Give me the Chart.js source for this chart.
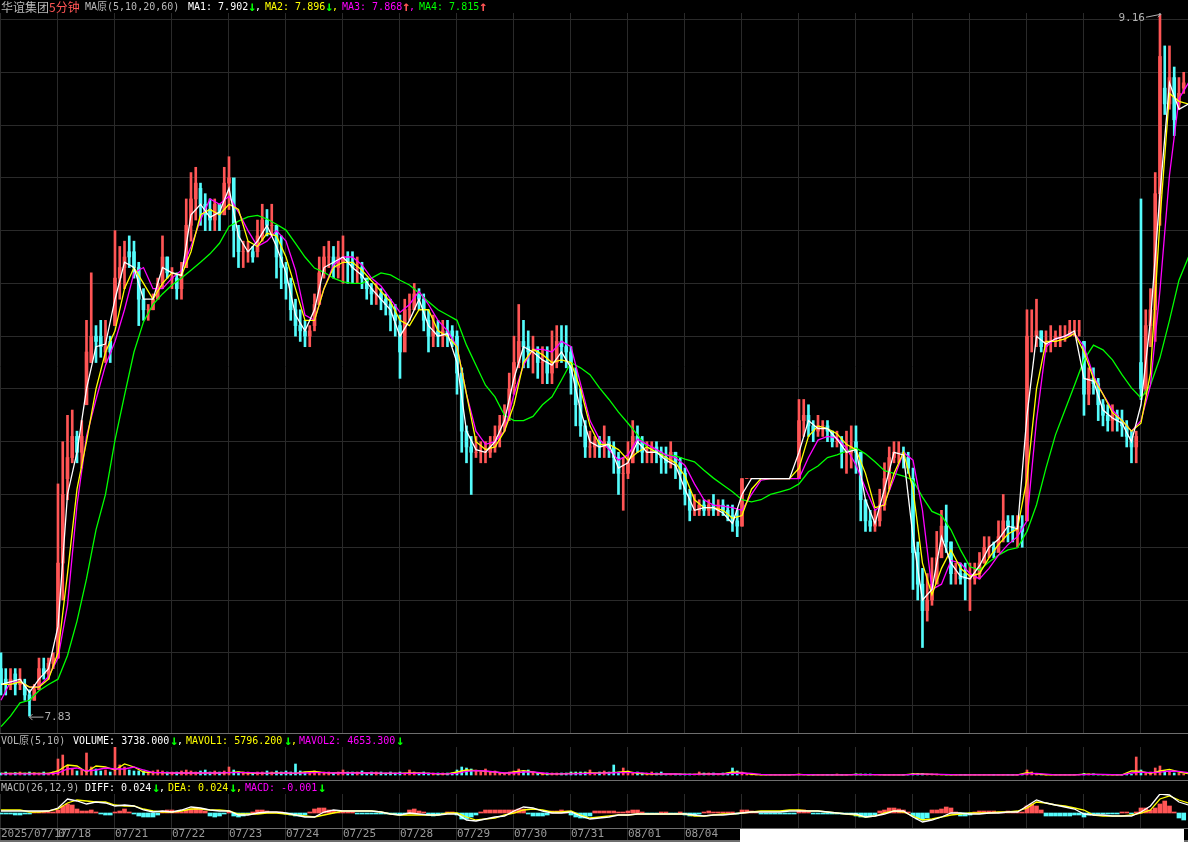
<!DOCTYPE html>
<html lang="zh-CN">
<head>
<meta charset="UTF-8">
<title>华谊集团 5分钟</title>
<script src="https://cdn.jsdelivr.net/npm/chart.js"></script>
<style>
    html, body { margin: 0; background: #000; }
    #wrap { position: relative; width: 1188px; height: 842px; background: #000; overflow: hidden; font: 10px "DejaVu Sans Mono", monospace; }
    canvas { position: absolute; left: 0; }
    .strip { position: absolute; left: 0; width: 1188px; height: 13px; background: #000; }
    .strip span { position: absolute; top: 0; line-height: 13px; white-space: pre; }
    .strip span.arrow { font-size: 14px; font-weight: bold; }
    .cjk { font: 12px "Noto Sans CJK SC", sans-serif; }
    .sep { position: absolute; left: 0; width: 1188px; height: 1px; background: #6e6e6e; }
    .w { color: #fff; } .y { color: #ff0; } .m { color: #f0f; } .g { color: #0f0; } .r { color: #f55; } .s { color: #b8b8b8; }
</style>
</head>
<body>
<div id="wrap">
    <canvas id="mainChart" width="1188" height="733" style="top:0"></canvas>
    <canvas id="volChart" width="1188" height="46" style="top:734px"></canvas>
    <canvas id="macdChart" width="1188" height="61" style="top:781px"></canvas>

    <div class="strip" style="top:0">
        <span class="cjk s" style="left:1px">华谊集团</span><span class="cjk r" style="left:49px">5分钟</span>
        <span class="s" style="left:85px">MA原(5,10,20,60)</span>
        <span class="w" style="left:188px">MA1: 7.902</span><span class="g arrow" style="left:248px">↓</span><span class="w" style="left:255px">,</span>
        <span class="y" style="left:265px">MA2: 7.896</span><span class="g arrow" style="left:325px">↓</span><span class="y" style="left:332px">,</span>
        <span class="m" style="left:342px">MA3: 7.868</span><span class="r arrow" style="left:402px">↑</span><span class="m" style="left:409px">,</span>
        <span class="g" style="left:419px">MA4: 7.815</span><span class="r arrow" style="left:479px">↑</span>
    </div>
    <div class="sep" style="top:733px"></div>
    <div class="strip" style="top:734px">
        <span class="s" style="left:1px">VOL原(5,10)</span>
        <span class="w" style="left:73px">VOLUME: 3738.000</span><span class="g arrow" style="left:170px">↓</span><span class="w" style="left:177px">,</span>
        <span class="y" style="left:186px">MAVOL1: 5796.200</span><span class="g arrow" style="left:284px">↓</span><span class="y" style="left:291px">,</span>
        <span class="m" style="left:299px">MAVOL2: 4653.300</span><span class="g arrow" style="left:396px">↓</span>
    </div>
    <div class="sep" style="top:780px"></div>
    <div class="strip" style="top:781px">
        <span class="s" style="left:1px">MACD(26,12,9)</span>
        <span class="w" style="left:85px">DIFF: 0.024</span><span class="g arrow" style="left:152px">↓</span><span class="w" style="left:159px">,</span>
        <span class="y" style="left:168px">DEA: 0.024</span><span class="g arrow" style="left:229px">↓</span><span class="y" style="left:236px">,</span>
        <span class="m" style="left:245px">MACD: -0.001</span><span class="g arrow" style="left:318px">↓</span>
    </div>
    <div class="sep" style="top:828px"></div>
    <div style="position:absolute;left:0;top:840px;width:1188px;height:2px;background:#6e6e6e"></div>
    <div style="position:absolute;left:740px;top:829px;width:444px;height:13px;background:#fff"></div>
</div>

<script>
    // 每天 12 根取样(约 20 分钟一根),价格从图上读出
    const dayLabels = ['2025/07/17', '07/18', '07/21', '07/22', '07/23', '07/24', '07/25', '07/28', '07/29', '07/30', '07/31', '08/01', '08/04'];
    const dayStarts = [0, 12, 24, 36, 48, 60, 72, 84, 96, 108, 120, 132, 144, 156, 168, 180, 192, 204, 216, 228, 240];
    const priceGrid = [9.15, 9.05, 8.95, 8.85, 8.75, 8.65, 8.55, 8.45, 8.35, 8.25, 8.15, 8.05, 7.95, 7.85];

    const highs = [
        7.95,7.92,7.92,7.92,7.92,7.90,7.88,7.89,7.94,7.94,7.94,7.95,
        8.27,8.35,8.40,8.41,8.37,8.39,8.58,8.67,8.57,8.58,8.58,8.55,
        8.75,8.72,8.73,8.74,8.73,8.69,8.64,8.61,8.63,8.66,8.74,8.70,
        8.68,8.67,8.69,8.81,8.86,8.87,8.84,8.82,8.81,8.81,8.80,8.87,
        8.89,8.83,8.76,8.73,8.73,8.72,8.77,8.80,8.79,8.80,8.75,8.74,
        8.69,8.66,8.62,8.60,8.58,8.57,8.63,8.70,8.72,8.73,8.72,8.73,
        8.74,8.71,8.71,8.70,8.69,8.66,8.65,8.65,8.64,8.63,8.62,8.61,
        8.59,8.62,8.63,8.65,8.64,8.63,8.60,8.59,8.58,8.58,8.58,8.57,
        8.56,8.49,8.38,8.36,8.36,8.35,8.35,8.36,8.38,8.40,8.42,8.48,
        8.55,8.61,8.58,8.56,8.55,8.53,8.53,8.53,8.56,8.57,8.57,8.57,
        8.53,8.49,8.45,8.39,8.37,8.36,8.36,8.38,8.36,8.35,8.33,8.32,
        8.35,8.39,8.38,8.36,8.35,8.35,8.35,8.34,8.34,8.35,8.33,8.32,
        8.30,8.26,8.25,8.24,8.24,8.24,8.25,8.24,8.24,8.23,8.23,8.22,
        8.28,8.28,8.28,8.28,8.28,8.28,8.28,8.28,8.28,8.28,8.28,8.28,
        8.43,8.43,8.42,8.39,8.40,8.39,8.39,8.37,8.37,8.36,8.37,8.38,
        8.38,8.30,8.23,8.22,8.22,8.26,8.31,8.34,8.35,8.35,8.34,8.33,
        8.30,8.16,8.11,8.10,8.13,8.18,8.22,8.23,8.16,8.12,8.12,8.12,
        8.12,8.12,8.14,8.17,8.17,8.16,8.20,8.25,8.21,8.21,8.21,8.21,
        8.60,8.60,8.62,8.56,8.56,8.57,8.56,8.57,8.57,8.58,8.58,8.58,
        8.54,8.49,8.49,8.47,8.43,8.42,8.42,8.41,8.41,8.39,8.37,8.37,
        8.81,8.60,8.64,8.86,9.16,9.10,9.10,9.06,9.04,9.05
    ];
    const lows = [
        7.87,7.87,7.88,7.87,7.88,7.86,7.83,7.86,7.89,7.90,7.90,7.92,
        7.94,8.05,8.24,8.31,8.31,8.30,8.46,8.50,8.50,8.51,8.50,8.50,
        8.57,8.62,8.64,8.68,8.66,8.57,8.58,8.58,8.60,8.64,8.64,8.66,
        8.64,8.62,8.62,8.68,8.73,8.77,8.76,8.75,8.75,8.75,8.75,8.78,
        8.79,8.70,8.68,8.68,8.69,8.69,8.70,8.73,8.74,8.74,8.66,8.64,
        8.62,8.58,8.55,8.54,8.53,8.53,8.56,8.62,8.66,8.68,8.66,8.66,
        8.65,8.65,8.65,8.65,8.64,8.62,8.61,8.61,8.60,8.59,8.56,8.55,
        8.47,8.55,8.58,8.60,8.60,8.56,8.52,8.53,8.53,8.53,8.53,8.53,
        8.44,8.33,8.31,8.25,8.32,8.31,8.31,8.32,8.33,8.34,8.37,8.39,
        8.44,8.49,8.49,8.49,8.48,8.47,8.46,8.46,8.46,8.49,8.50,8.49,
        8.44,8.38,8.36,8.32,8.32,8.32,8.32,8.32,8.32,8.29,8.25,8.22,
        8.28,8.31,8.33,8.31,8.31,8.31,8.31,8.29,8.29,8.30,8.28,8.26,
        8.23,8.20,8.21,8.21,8.21,8.21,8.21,8.21,8.21,8.20,8.18,8.17,
        8.19,8.28,8.28,8.28,8.28,8.28,8.28,8.28,8.28,8.28,8.28,8.28,
        8.28,8.36,8.36,8.35,8.36,8.36,8.35,8.34,8.34,8.30,8.29,8.30,
        8.29,8.20,8.18,8.18,8.18,8.19,8.22,8.26,8.31,8.31,8.30,8.29,
        8.07,8.05,7.96,8.01,8.04,8.09,8.15,8.14,8.08,8.08,8.08,8.05,
        8.03,8.08,8.09,8.12,8.13,8.13,8.15,8.16,8.16,8.16,8.15,8.15,
        8.20,8.52,8.53,8.52,8.52,8.52,8.53,8.53,8.54,8.55,8.55,8.55,
        8.40,8.42,8.44,8.39,8.38,8.37,8.37,8.37,8.36,8.34,8.31,8.31,
        8.43,8.44,8.53,8.54,8.76,8.97,8.98,8.93,8.98,9.01
    ];
    const opens = [
        7.92,7.90,7.89,7.91,7.89,7.89,7.87,7.86,7.88,7.92,7.91,7.93,
        7.94,8.12,8.28,8.32,8.36,8.33,8.42,8.50,8.55,8.55,8.52,8.54,
        8.57,8.66,8.68,8.71,8.71,8.68,8.62,8.60,8.60,8.62,8.65,8.70,
        8.66,8.66,8.64,8.68,8.76,8.81,8.83,8.80,8.79,8.77,8.80,8.78,
        8.84,8.85,8.75,8.71,8.71,8.71,8.71,8.74,8.77,8.76,8.76,8.70,
        8.68,8.65,8.60,8.57,8.56,8.55,8.57,8.61,8.67,8.70,8.70,8.68,
        8.69,8.70,8.69,8.68,8.68,8.66,8.64,8.63,8.63,8.62,8.61,8.59,
        8.57,8.52,8.60,8.60,8.63,8.62,8.58,8.55,8.56,8.55,8.56,8.56,
        8.55,8.48,8.37,8.34,8.33,8.33,8.33,8.33,8.34,8.36,8.38,8.41,
        8.46,8.50,8.54,8.53,8.52,8.52,8.50,8.50,8.48,8.50,8.54,8.53,
        8.52,8.48,8.42,8.38,8.34,8.34,8.35,8.34,8.35,8.34,8.32,8.29,
        8.29,8.31,8.36,8.35,8.33,8.33,8.34,8.33,8.32,8.31,8.33,8.31,
        8.29,8.25,8.22,8.22,8.23,8.22,8.23,8.22,8.23,8.22,8.21,8.20,
        8.19,8.28,8.28,8.28,8.28,8.28,8.28,8.28,8.28,8.28,8.28,8.28,
        8.28,8.39,8.40,8.38,8.37,8.38,8.38,8.37,8.35,8.35,8.33,8.33,
        8.35,8.33,8.24,8.20,8.19,8.20,8.23,8.28,8.32,8.33,8.33,8.32,
        8.28,8.14,8.08,8.03,8.05,8.08,8.13,8.19,8.16,8.10,8.10,8.10,
        8.09,8.09,8.10,8.12,8.15,8.15,8.14,8.17,8.20,8.19,8.18,8.19,
        8.20,8.55,8.55,8.56,8.53,8.54,8.54,8.55,8.55,8.55,8.56,8.56,
        8.54,8.44,8.47,8.46,8.42,8.40,8.39,8.40,8.39,8.38,8.36,8.34,
        8.50,8.45,8.57,8.60,8.82,9.02,8.99,9.04,8.99,9.02
    ];
    const closes = [
        7.89,7.89,7.90,7.89,7.90,7.87,7.86,7.88,7.92,7.91,7.93,7.94,
        8.12,8.25,8.32,8.36,8.33,8.36,8.52,8.55,8.54,8.53,8.53,8.52,
        8.66,8.68,8.70,8.70,8.68,8.62,8.60,8.60,8.62,8.65,8.70,8.67,
        8.66,8.64,8.67,8.76,8.81,8.84,8.80,8.78,8.77,8.80,8.78,8.84,
        8.85,8.75,8.71,8.71,8.71,8.70,8.74,8.77,8.76,8.76,8.70,8.68,
        8.65,8.60,8.57,8.56,8.55,8.56,8.61,8.67,8.70,8.70,8.68,8.70,
        8.70,8.69,8.68,8.68,8.66,8.64,8.63,8.63,8.62,8.61,8.59,8.58,
        8.52,8.60,8.60,8.63,8.62,8.58,8.55,8.56,8.55,8.56,8.55,8.55,
        8.48,8.37,8.34,8.33,8.33,8.33,8.33,8.34,8.36,8.38,8.40,8.45,
        8.50,8.54,8.53,8.52,8.52,8.50,8.50,8.48,8.50,8.54,8.53,8.52,
        8.48,8.42,8.38,8.34,8.34,8.35,8.34,8.35,8.34,8.32,8.29,8.29,
        8.31,8.36,8.35,8.33,8.33,8.34,8.33,8.32,8.31,8.33,8.31,8.29,
        8.25,8.22,8.22,8.23,8.22,8.23,8.22,8.23,8.22,8.21,8.20,8.19,
        8.28,8.28,8.28,8.28,8.28,8.28,8.28,8.28,8.28,8.28,8.28,8.28,
        8.39,8.40,8.38,8.37,8.38,8.38,8.37,8.35,8.35,8.33,8.33,8.34,
        8.33,8.24,8.20,8.19,8.20,8.23,8.28,8.32,8.33,8.33,8.32,8.30,
        8.14,8.08,8.03,8.05,8.08,8.13,8.19,8.16,8.10,8.10,8.09,8.09,
        8.09,8.10,8.12,8.15,8.15,8.14,8.17,8.20,8.19,8.18,8.19,8.18,
        8.55,8.55,8.56,8.53,8.54,8.54,8.55,8.55,8.55,8.56,8.56,8.56,
        8.44,8.47,8.46,8.42,8.40,8.39,8.40,8.39,8.38,8.36,8.34,8.36,
        8.45,8.57,8.60,8.82,9.08,8.99,9.04,8.96,9.01,9.03
    ];

    // 均线每两根取样一个点
    const ma1 = [
        7.89,7.895,7.90,7.875,7.90,7.92, 8.00,8.25,8.33,8.45,8.53,8.535,
        8.62,8.69,8.68,8.62,8.62,8.68, 8.67,8.665,8.78,8.80,8.775,8.785,
        8.83,8.74,8.71,8.73,8.76,8.72, 8.67,8.59,8.56,8.60,8.68,8.69,
        8.70,8.68,8.665,8.64,8.62,8.60, 8.55,8.58,8.62,8.57,8.55,8.555,
        8.50,8.37,8.335,8.33,8.35,8.39, 8.47,8.53,8.52,8.505,8.495,8.52,
        8.49,8.41,8.35,8.34,8.345,8.30, 8.31,8.35,8.33,8.33,8.315,8.305,
        8.26,8.22,8.225,8.225,8.215,8.195, 8.25,8.28,8.28,8.28,8.28,8.28,
        8.33,8.39,8.375,8.375,8.355,8.33, 8.335,8.24,8.195,8.26,8.33,8.325,
        8.17,8.05,8.07,8.17,8.12,8.095, 8.09,8.115,8.15,8.165,8.19,8.185,
        8.40,8.55,8.535,8.545,8.55,8.56, 8.47,8.465,8.41,8.395,8.385,8.35,
        8.42,8.58,8.82,9.03,8.98,8.99
    ];
    const ma2 = [
        7.89,7.89,7.895,7.885,7.885,7.90, 7.95,8.10,8.26,8.35,8.45,8.52,
        8.56,8.64,8.68,8.65,8.62,8.65, 8.67,8.665,8.71,8.78,8.79,8.78,
        8.80,8.79,8.73,8.72,8.745,8.74, 8.70,8.64,8.58,8.58,8.64,8.68,
        8.69,8.69,8.675,8.655,8.635,8.615, 8.58,8.57,8.60,8.60,8.56,8.55,
        8.53,8.44,8.35,8.335,8.34,8.37, 8.42,8.50,8.525,8.515,8.50,8.505,
        8.50,8.45,8.38,8.345,8.345,8.335, 8.315,8.33,8.34,8.33,8.32,8.31,
        8.285,8.24,8.225,8.225,8.22,8.205, 8.21,8.26,8.28,8.28,8.28,8.28,
        8.30,8.36,8.38,8.375,8.365,8.345, 8.335,8.29,8.225,8.23,8.29,8.33,
        8.26,8.12,8.06,8.11,8.145,8.11, 8.095,8.10,8.13,8.155,8.175,8.185,
        8.28,8.45,8.54,8.54,8.545,8.555, 8.52,8.47,8.44,8.405,8.39,8.37,
        8.385,8.48,8.77,9.01,8.995,8.99
    ];
    const ma3 = [
        7.86,7.895,7.895,7.885,7.886,7.905, 7.94,8.04,8.23,8.36,8.43,8.495,
        8.54,8.60,8.67,8.68,8.64,8.64, 8.66,8.675,8.72,8.77,8.81,8.80,
        8.815,8.785,8.75,8.72,8.73,8.75, 8.73,8.675,8.59,8.58,8.64,8.685,
        8.70,8.70,8.685,8.66,8.645,8.62, 8.595,8.61,8.635,8.61,8.58,8.56,
        8.53,8.44,8.37,8.345,8.35,8.37, 8.44,8.495,8.525,8.525,8.52,8.54,
        8.53,8.46,8.39,8.355,8.335,8.315, 8.325,8.355,8.345,8.335,8.325,8.32,
        8.305,8.27,8.24,8.23,8.228,8.225, 8.22,8.25,8.277,8.28,8.28,8.28,
        8.28,8.32,8.353,8.36,8.357,8.338, 8.306,8.262,8.22,8.233,8.28,8.33,
        8.315,8.22,8.07,8.08,8.125,8.12, 8.10,8.09,8.11,8.135,8.155,8.17,
        8.20,8.39,8.53,8.545,8.55,8.555, 8.53,8.475,8.44,8.41,8.39,8.37,
        8.39,8.457,8.637,8.855,9.00,9.03
    ];
    const ma4 = [
        7.81,7.83,7.855,7.86,7.878,7.89, 7.90,7.945,8.01,8.09,8.183,8.25,
        8.353,8.438,8.52,8.577,8.61,8.63, 8.647,8.66,8.675,8.69,8.706,8.726,
        8.758,8.768,8.776,8.779,8.772,8.762, 8.751,8.726,8.70,8.679,8.671,8.66,
        8.653,8.65,8.65,8.66,8.67,8.666, 8.656,8.647,8.632,8.615,8.60,8.59,
        8.58,8.533,8.495,8.457,8.435,8.40, 8.39,8.39,8.398,8.42,8.435,8.467,
        8.50,8.49,8.477,8.452,8.43,8.406, 8.385,8.363,8.34,8.33,8.325,8.323,
        8.317,8.312,8.296,8.281,8.268,8.255, 8.24,8.236,8.24,8.25,8.255,8.26,
        8.27,8.293,8.304,8.32,8.325,8.332, 8.338,8.327,8.312,8.295,8.29,8.285,
        8.277,8.245,8.218,8.21,8.183,8.145, 8.113,8.107,8.122,8.135,8.145,8.149,
        8.18,8.23,8.30,8.363,8.41,8.457, 8.505,8.533,8.524,8.505,8.477,8.452,
        8.433,8.457,8.509,8.58,8.656,8.70
    ];

    // 成交量,单位千手
    const volumes = [
        10,15,10,12,15,10,15,12,10,15,10,15,
        80,100,45,30,20,25,110,40,30,20,25,15,
        140,50,40,25,20,20,20,15,20,25,20,15,
        15,15,20,25,20,15,20,25,15,20,15,20,
        40,25,15,15,15,10,15,15,20,15,20,15,
        20,15,55,20,15,15,20,15,15,15,10,15,
        25,15,15,15,20,10,15,15,15,10,15,10,
        15,10,25,15,10,15,10,10,10,10,10,10,
        25,40,35,30,25,15,30,15,20,10,10,15,
        20,30,20,25,15,10,10,10,10,10,10,10,
        15,15,15,15,25,10,15,20,15,50,15,35,
        20,10,15,10,10,15,10,15,5,5,5,5,
        5,5,5,15,10,10,10,5,10,10,35,20,
        15,5,2,2,2,2,2,2,2,2,2,2,
        5,3,3,3,3,3,3,3,5,3,3,3,
        6,5,5,5,3,3,3,3,3,3,3,3,
        8,8,8,5,5,5,3,3,3,3,3,3,
        3,3,3,3,3,3,3,3,3,3,3,3,
        25,15,5,3,3,3,3,3,3,3,3,3,
        8,6,6,3,3,3,3,3,3,3,3,90,
        25,10,15,35,45,20,15,10,8,5
    ];
    const mavol1 = [
        8,8,8,8,8,8, 20,50,45,15,45,40, 25,55,40,15,12,12, 10,10,10,10,10,10,
        12,15,10,8,8,10, 10,8,15,18,12,10, 12,12,10,10,8,8, 8,10,10,8,6,6,
        15,25,22,18,15,8, 15,22,15,6,6,6, 8,8,10,10,12,14, 18,8,6,5,5,5,
        3,3,6,5,5,15, 12,3,1,1,1,1, 3,1,1,1,1,1, 3,2,2,1,1,1,
        5,5,3,2,1,1, 1,1,1,1,1,1, 12,6,1,1,1,1, 4,3,2,1,1,20,
        18,8,20,28,15,6
    ];
    const mavol2 = [
        6,6,6,6,6,6, 10,30,35,20,25,35, 30,30,40,25,12,12, 10,10,10,10,10,10,
        12,12,12,10,9,9, 10,9,10,12,12,10, 10,10,10,10,9,9, 8,8,9,8,7,6,
        8,18,22,20,15,10, 10,15,15,10,6,6, 6,7,8,9,10,12, 12,12,8,6,5,5,
        3,3,4,5,5,8, 10,8,3,1,1,1, 2,2,1,1,1,1, 2,2,2,1,1,1,
        3,4,4,3,2,1, 1,1,1,1,1,1, 6,8,4,1,1,1, 2,3,3,2,1,10,
        14,12,14,20,18,12
    ];

    // MACD,单位 0.001
    const macdHist = [
        -3,-3,-3,-6,-6,-3,-3,3,3,3,3,3,
        9,21,27,24,12,6,6,9,3,-3,-6,-6,
        3,6,12,3,-3,-9,-12,-12,-12,-6,6,9,
        9,3,3,9,12,15,12,6,-9,-12,-9,-3,
        6,-9,-12,-9,-3,3,9,9,6,3,3,3,
        -3,-6,-9,-9,-6,3,12,15,15,9,6,3,
        3,3,3,-3,-3,-3,-3,-3,-3,-3,-3,-3,
        -6,-3,9,12,6,3,-6,-9,-6,-3,3,3,
        -6,-18,-18,-12,-6,3,9,9,9,9,9,9,
        9,12,12,-3,-9,-9,-9,-6,6,6,9,6,
        -6,-12,-15,-15,-9,6,6,6,6,6,3,3,
        6,9,9,3,-3,-3,-3,3,3,-3,-3,3,
        -6,-9,-6,-3,3,6,3,3,3,3,3,-3,
        9,9,6,3,-3,-3,-3,-3,-3,-3,-3,-3,
        9,9,3,-3,-3,-3,-3,-3,-3,-3,-3,-3,
        -9,-12,-12,-9,-6,6,9,15,15,12,9,3,
        -9,-18,-21,-15,9,9,12,18,15,3,-9,-9,
        -6,3,6,6,6,6,3,3,6,3,3,3,
        21,27,21,9,-9,-9,-9,-9,-9,-9,-6,-6,
        -12,-6,-3,-3,-3,-3,-3,-3,3,3,-3,3,
        15,15,9,15,27,36,21,3,-15,-21
    ];
    const diff = [
        6,6,6,6,6,6, 15,42,36,27,33,30, 21,24,21,9,3,6, 3,9,18,15,9,6,
        6,-6,-6,0,3,3, 0,-6,-12,-12,3,9, 6,6,6,6,3,-3, -6,0,-3,-6,-6,-3,
        -3,-21,-24,-18,-12,-9, 6,18,15,6,0,0, 3,-9,-18,-15,-12,-6, -6,-3,-3,-3,-3,-3,
        -3,-6,-9,-6,-6,-3, 0,3,3,3,3,6, 6,6,6,3,0,-3, -3,-12,-9,-3,6,6,
        -12,-27,-21,-12,0,0, -3,-3,0,0,3,3, 21,39,30,24,18,12, -3,-6,-6,-9,-9,-9,
        3,21,57,54,33,24
    ];
    const dea = [
        9,9,9,3,3,6, 12,30,39,36,33,33, 24,21,21,12,6,3, 3,6,12,12,9,9,
        6,-3,-3,-3,0,0, -3,-6,-9,-12,-6,0, 6,6,6,6,3,-3, -6,-6,-6,-6,-6,0,
        0,-12,-21,-18,-15,-6, 0,9,12,9,3,3, 6,-6,-15,-12,-9,-6, -6,-3,-3,-3,-3,-3,
        -3,-9,-9,-6,-3,-3, 0,3,6,6,6,9, 9,6,6,3,0,-3, -6,-12,-9,0,6,3,
        -9,-21,-18,-12,-6,-3, 0,0,0,3,3,6, 15,33,30,24,21,15, 9,-6,-9,-9,-9,-6,
        0,9,42,51,39,30
    ];

    const upColor = '#ff5555';
    const downColor = '#54fcfc';
    const gridColor = '#2a2a2a';
    const xMin = -0.21, xMax = 249.9;   // 竖线从 x=1 开始

    const indexed = arr => arr.map((v, i) => ({ x: i, y: v }));
    const everyTwo = arr => arr.map((v, i) => ({ x: i * 2, y: v }));
    const candleColor = ctx => closes[ctx.dataIndex] >= opens[ctx.dataIndex] ? upColor : downColor;

    function lineSet(data, color) {
        return { type: 'line', data: everyTwo(data), borderColor: color, borderWidth: 1.3, pointRadius: 0, tension: 0, order: 0 };
    }
    function barSet(data, color, width) {
        return { type: 'bar', data: data, backgroundColor: color, barThickness: width, grouped: false, order: 1 };
    }

    function makeChart(id, yMin, yMax, yTicks, datasets, bottomHeight, plugins) {
        return new Chart(document.getElementById(id), {
            data: { datasets: datasets },
            plugins: plugins || [],
            options: {
                responsive: false,
                animation: false,
                devicePixelRatio: 1,
                layout: { padding: 0 },
                plugins: { legend: { display: false }, tooltip: { enabled: false } },
                scales: {
                    x: {
                        type: 'linear',
                        min: xMin,
                        max: xMax,
                        offset: false,
                        border: { display: false },
                        grid: { offset: false, color: gridColor, lineWidth: 1, drawTicks: bottomHeight > 0, tickLength: 12, tickColor: gridColor },
                        ticks: {
                            display: bottomHeight > 0,
                            autoSkip: false,
                            maxRotation: 0,
                            align: 'start',
                            padding: -12,
                            color: '#999999',
                            font: { family: 'DejaVu Sans Mono', size: 11 },
                            callback: (v, i) => dayLabels[i] || ''
                        },
                        afterBuildTicks: s => { s.ticks = dayStarts.map(v => ({ value: v })); },
                        afterFit: s => { s.height = bottomHeight; }
                    },
                    y: {
                        min: yMin,
                        max: yMax,
                        border: { display: false },
                        grid: { color: gridColor, lineWidth: 1, drawTicks: false },
                        ticks: { display: false },
                        afterBuildTicks: s => { s.ticks = yTicks.map(v => ({ value: v })); },
                        afterFit: s => { s.width = 0; }
                    }
                }
            }
        });
    }

    // 最高最低价的箭头标注
    const extremeLabels = {
        id: 'extremeLabels',
        afterDatasetsDraw(chart) {
            const { ctx, scales } = chart;
            const lowIdx = lows.indexOf(Math.min(...lows));
            const highIdx = highs.indexOf(Math.max(...highs));
            const lx = scales.x.getPixelForValue(lowIdx), ly = scales.y.getPixelForValue(Math.min(...lows));
            const hx = scales.x.getPixelForValue(highIdx), hy = scales.y.getPixelForValue(Math.max(...highs));
            ctx.save();
            ctx.strokeStyle = '#b0b0b0';
            ctx.fillStyle = '#b0b0b0';
            ctx.lineWidth = 1;
            ctx.font = '11px "DejaVu Sans Mono"';
            ctx.textBaseline = 'middle';
            ctx.beginPath();
            ctx.moveTo(lx + 14, ly + 1); ctx.lineTo(lx, ly + 1); ctx.lineTo(lx + 3, ly - 2);
            ctx.moveTo(lx, ly + 1); ctx.lineTo(lx + 3, ly + 4);
            ctx.moveTo(hx - 14, hy + 3); ctx.lineTo(hx + 1, hy); ctx.lineTo(hx - 2, hy - 2);
            ctx.moveTo(hx + 1, hy); ctx.lineTo(hx - 2, hy + 3);
            ctx.stroke();
            ctx.fillText(Math.min(...lows).toFixed(2), lx + 15, ly + 1);
            ctx.textAlign = 'right';
            ctx.fillText(Math.max(...highs).toFixed(2), hx - 15, hy + 4);
            ctx.restore();
        }
    };

    // 同一 order 下,靠前的数据集画在上层
    makeChart('mainChart', 7.798, 9.187, priceGrid, [
        lineSet(ma1, '#ffffff'),
        lineSet(ma2, '#ffff00'),
        lineSet(ma3, '#ff00ff'),
        lineSet(ma4, '#00ff00'),
        barSet(highs.map((h, i) => ({ x: i, y: [lows[i], h] })), candleColor, 2),
        barSet(opens.map((o, i) => ({ x: i, y: [o, closes[i]] })), candleColor, 3)
    ], 0, [extremeLabels]);

    makeChart('volChart', -25, 205, [], [
        lineSet(mavol2, '#ff00ff'),
        lineSet(mavol1, '#ffff00'),
        barSet(indexed(volumes), candleColor, 2)
    ], 0);

    makeChart('macdChart', -45, 96, [], [
        lineSet(diff, '#ffffff'),
        lineSet(dea, '#ffff00'),
        barSet(indexed(macdHist), ctx => ctx.raw.y >= 0 ? upColor : downColor, 4)
    ], 14);
</script>
</body>
</html>
